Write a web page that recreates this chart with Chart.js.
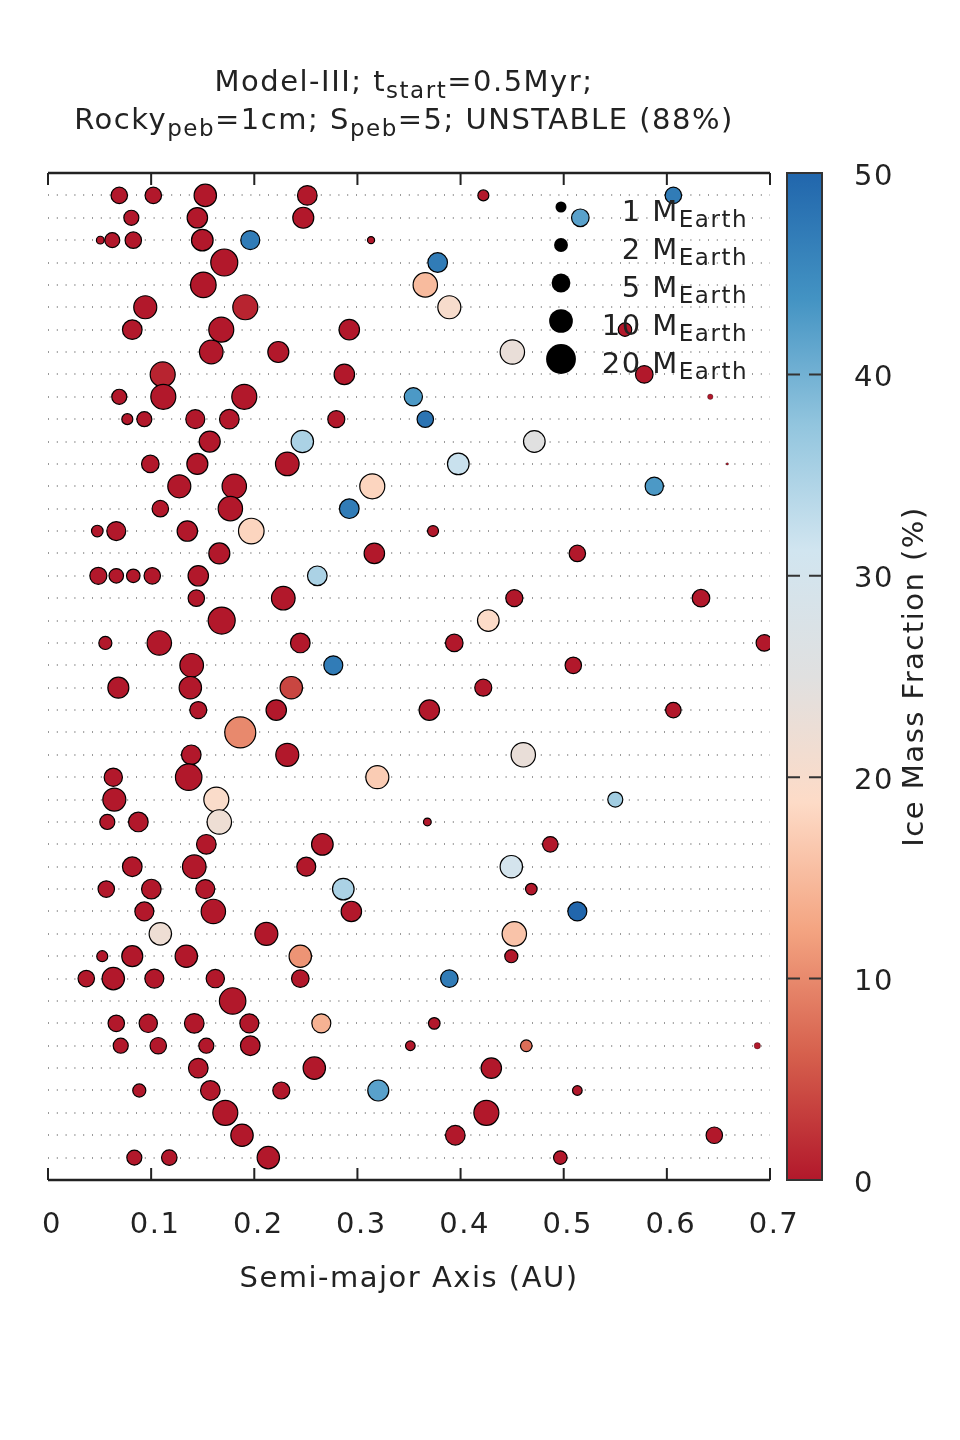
<!DOCTYPE html>
<html>
<head>
<meta charset="utf-8">
<script src="https://cdn.jsdelivr.net/npm/chart.js@4.4.1/dist/chart.umd.min.js"></script>
<style>
  body { margin: 0; background: #fff; }
</style>
</head>
<body>
<canvas id="planets" width="960" height="1440"></canvas>
<script>
// one entry per planet: simulation run (row), semi-major axis (AU), mass (M_Earth), ice mass fraction (%)
const runId = [
  44,44,44,44,44,44, 43,43,43,43, 42,42,42,42,42,42, 41,41, 40,40, 39,39,39, 38,38,38,38, 37,37,37, 36,36,36,
  35,35,35,35,35, 34,34,34,34,34,34, 33,33,33, 32,32,32,32,32, 31,31,31,31, 30,30,30, 29,29,29,29,29,
  28,28,28, 27,27,27,27,27,27, 26,26,26,26, 25,25, 24,24,24,24,24, 23,23,23, 22,22,22,22, 21,21,21,21,
  20, 19,19,19, 18,18,18, 17,17,17, 16,16,16,16, 15,15,15, 14,14,14,14, 13,13,13,13,13, 12,12,12,12,
  11,11,11, 10,10,10,10,10, 9,9,9,9,9,9, 8, 7,7,7,7,7,7, 6,6,6,6,6,6,6, 5,5,5, 4,4,4,4,4, 3,3, 2,2,2, 1,1,1,1
];
const semiMajorAxis = [
  0.0691,0.1021,0.1525,0.2514,0.4221,0.6063, 0.0808,0.1448,0.2475,0.5161,
  0.0507,0.0623,0.0827,0.1496,0.1961,0.3132, 0.1709,0.3778, 0.1506,0.3658,
  0.0943,0.1913,0.3891, 0.0817,0.1680,0.2921,0.5594, 0.1583,0.2233,0.4502, 0.1112,0.2873,0.5781,
  0.0691,0.1118,0.1903,0.3542,0.6421, 0.0769,0.0934,0.1428,0.1758,0.2795,0.3658,
  0.1568,0.2466,0.4715, 0.0992,0.1448,0.2320,0.3978,0.6586, 0.1273,0.1806,0.3144,0.5878,
  0.1089,0.1768,0.2921, 0.0478,0.0662,0.1351,0.1971,0.3733,
  0.1661,0.3164,0.5132, 0.0488,0.0662,0.0827,0.1011,0.1457,0.2611, 0.1438,0.2281,0.4521,0.6331,
  0.1684,0.4269, 0.0556,0.1079,0.2446,0.3939,0.6945, 0.1393,0.2766,0.5093,
  0.0682,0.1380,0.2359,0.4220, 0.1457,0.2213,0.3697,0.6063,
  0.1864, 0.1389,0.2320,0.4608, 0.0633,0.1364,0.3193, 0.0643,0.1632,0.5500,
  0.0575,0.0876,0.1661,0.3678, 0.1535,0.2660,0.4870, 0.0817,0.1418,0.2504,0.4492,
  0.0565,0.1002,0.1525,0.2863,0.4686, 0.0934,0.1603,0.2941,0.5132,
  0.1089,0.2117,0.4521, 0.0526,0.0817,0.1341,0.2446,0.4492, 0.0371,0.0633,0.1031,0.1622,0.2446,0.3891,
  0.1790, 0.0662,0.0972,0.1418,0.1952,0.2650,0.3745, 0.0705,0.1069,0.1535,0.1961,0.3513,0.4637,0.6877,
  0.1457,0.2582,0.4298, 0.0885,0.1574,0.2262,0.3202,0.5132, 0.1719,0.4250, 0.1881,0.3949,0.6460,
  0.0837,0.1176,0.2136,0.4967
];
const planetMass = [
  4.0,4.0,9.6,6.6,1.3,4.0, 3.1,7.4,8.0,4.8,
  0.5,3.1,4.0,8.7,6.0,0.4, 16.5,6.6, 14.1,12.3,
  10.4,13.2,10.4, 6.6,13.2,7.4,2.3, 11.2,8.0,12.3, 13.2,7.4,4.8,
  3.1,13.2,13.2,5.4,0.2, 1.3,3.1,6.0,6.6,4.4,4.0,
  8.0,9.6,8.7, 4.8,8.0,11.2,8.7,0.03, 10.4,12.3,13.2,5.4,
  4.0,12.3,6.6, 1.5,6.0,7.4,14.1,1.3,
  8.0,7.4,4.0, 4.4,2.8,2.3,4.0,7.4,6.6, 4.0,11.2,4.4,4.8,
  16.5,8.7, 2.1,12.3,6.6,4.8,4.0, 11.2,6.0,4.0,
  8.0,9.6,9.6,4.4, 4.4,7.4,7.4,3.4,
  24.6, 6.6,10.4,12.3, 5.4,15.6,10.4, 10.4,13.2,3.1,
  3.1,6.6,12.3,0.5, 6.6,8.7,3.4, 6.6,11.2,6.0,9.6,
  4.0,6.6,6.0,8.7,1.5, 6.0,12.3,7.4,6.0,
  9.6,10.4,12.3, 1.3,8.0,9.6,9.6,2.1, 4.0,9.6,6.0,5.4,4.8,4.8,
  15.6, 4.0,5.4,6.6,6.0,6.0,1.5, 3.1,4.0,3.1,6.6,0.9,1.5,0.3,
  6.6,9.6,7.4, 2.1,6.6,4.4,8.0,0.9, 13.2,13.2, 9.6,6.6,4.0,
  3.1,3.4,9.6,2.3
];
const iceFraction = [
  0,0,0,0,0,47, 0,0,0,42,
  0,0,0,0,47,0, 0,47, 0,15,
  0,1,20, 0,0,0,0, 0,0,23, 1,0,0,
  0,0,0,43,0, 0,0,0,0,0,48,
  0,35,25, 0,0,0,32,0, 0,0,18,43,
  0,0,47, 0,0,0,18,0,
  0,0,0, 0,0,0,0,0,35, 0,0,0,0,
  0,19, 0,0,0,0,0, 0,47,0,
  0,0,4,0, 0,0,0,0,
  10, 0,0,23, 0,0,17, 0,19.5,36,
  0,0,22,0, 0,0,0, 0,0,0,30,
  0,0,0,35,0, 0,0,0,50,
  22,0,16, 0,0,0,11,0, 0,0,0,0,0,47,
  0, 0,0,0,0,14,0, 0,0,0,0,0,7.5,0,
  0,0,0, 0,0,0,42,0, 0,0, 0,0,0,
  0,0,0,0
];

const xTicks = [0, 0.1, 0.2, 0.3, 0.4, 0.5, 0.6, 0.7];
const cbarTicks = [0, 10, 20, 30, 40, 50];
const legendMasses = [1, 2, 5, 10, 20];

const ink = '#222';
const fontName = '"DejaVu Sans", Verdana, sans-serif';
const fontSize = 29;
const paletteStops = ['#B2182B', '#D6604D', '#F4A582', '#FDDBC7', '#E0E0E0', '#D1E5F0', '#92C5DE', '#4393C3', '#2166AC'];

function hexRgb(h) {
  return [1, 3, 5].map(i => parseInt(h.slice(i, i + 2), 16));
}

function iceColor(v) {
  const t = Math.max(0, Math.min(1, v / 50)) * (paletteStops.length - 1);
  const i = Math.min(Math.floor(t), paletteStops.length - 2);
  const f = t - i;
  const a = hexRgb(paletteStops[i]), b = hexRgb(paletteStops[i + 1]);
  const c = a.map((va, k) => Math.round(va + (b[k] - va) * f));
  return 'rgb(' + c.join(',') + ')';
}

// marker radius grows with the cube root of the mass
const markerRadius = m => 5.5 * Math.cbrt(m);

// text with subscripts: parts = [[text, isSub], ...]
function richText(ctx, parts, x, y, align, size) {
  const big = size + 'px ' + fontName;
  const small = Math.round(size * 0.78) + 'px ' + fontName;
  let w = 0;
  parts.forEach(p => { ctx.font = p[1] ? small : big; w += ctx.measureText(p[0]).width; });
  let cx = align === 'center' ? x - w / 2 : (align === 'right' ? x - w : x);
  ctx.textAlign = 'left';
  ctx.textBaseline = 'alphabetic';
  parts.forEach(p => {
    ctx.font = p[1] ? small : big;
    ctx.fillText(p[0], cx, p[1] ? y + size * 0.24 : y);
    cx += ctx.measureText(p[0]).width;
  });
}

// the reference lettering is a little wider than DejaVu Sans
const spaced = chart => { chart.ctx.letterSpacing = '1.5px'; };

const decorations = {
  id: 'decorations',
  beforeLayout: spaced,
  beforeDraw: spaced,
  afterDraw(chart) {
    const {ctx, chartArea: ca, scales: {x, cbar}} = chart;
    ctx.save();

    // frame: bottom + top spines with inward ticks
    ctx.strokeStyle = ink;
    ctx.lineWidth = 2.5;
    ctx.beginPath();
    ctx.moveTo(ca.left, ca.top); ctx.lineTo(ca.right, ca.top);
    ctx.moveTo(ca.left, ca.bottom); ctx.lineTo(ca.right, ca.bottom);
    ctx.stroke();
    ctx.lineWidth = 2;
    xTicks.forEach(v => {
      const px = x.getPixelForValue(v);
      ctx.beginPath();
      ctx.moveTo(px, ca.bottom); ctx.lineTo(px, ca.bottom - 12);
      ctx.moveTo(px, ca.top); ctx.lineTo(px, ca.top + 12);
      ctx.stroke();
    });

    // colour bar
    const bx = ca.right + 17, bw = 35;
    const yLo = cbar.getPixelForValue(cbar.min), yHi = cbar.getPixelForValue(cbar.max);
    const grad = ctx.createLinearGradient(0, yLo, 0, yHi);
    paletteStops.forEach((c, i) => grad.addColorStop(i / (paletteStops.length - 1), c));
    ctx.fillStyle = grad;
    ctx.fillRect(bx, yHi, bw, yLo - yHi);
    ctx.strokeStyle = '#333';
    ctx.lineWidth = 2;
    ctx.strokeRect(bx, yHi, bw, yLo - yHi);
    cbarTicks.forEach(v => {
      if (v <= cbar.min || v >= cbar.max) return;
      const py = cbar.getPixelForValue(v);
      ctx.beginPath();
      ctx.moveTo(bx, py); ctx.lineTo(bx + 13, py);
      ctx.moveTo(bx + bw - 13, py); ctx.lineTo(bx + bw, py);
      ctx.stroke();
    });

    ctx.fillStyle = ink;
    // colour bar title
    ctx.save();
    ctx.translate(915, (ca.top + ca.bottom) / 2);
    ctx.rotate(-Math.PI / 2);
    ctx.font = fontSize + 'px ' + fontName;
    ctx.textAlign = 'center';
    ctx.textBaseline = 'middle';
    ctx.fillText('Ice Mass Fraction (%)', 0, 0);
    ctx.restore();

    // size legend
    legendMasses.forEach((m, i) => {
      const ly = 207 + i * 38;
      ctx.beginPath();
      ctx.arc(561, ly, markerRadius(m), 0, Math.PI * 2);
      ctx.fillStyle = '#000';
      ctx.fill();
      ctx.fillStyle = ink;
      richText(ctx, [[m + ' M', false], ['Earth', true]], 748, ly + 13.5, 'right', fontSize);
    });

    // title
    richText(ctx, [['Model-III; t', false], ['start', true], ['=0.5Myr;', false]], 404, 91, 'center', fontSize);
    richText(ctx, [['Rocky', false], ['peb', true], ['=1cm; S', false], ['peb', true], ['=5; UNSTABLE (88%)', false]], 404, 129, 'center', fontSize);
    ctx.restore();
  }
};

new Chart(document.getElementById('planets'), {
  type: 'scatter',
  data: {
    datasets: [{
      data: semiMajorAxis.map((a, i) => ({x: a, y: runId[i]})),
      pointRadius: c => Math.max(1, markerRadius(planetMass[c.dataIndex]) - 0.5),
      pointHoverRadius: c => Math.max(1, markerRadius(planetMass[c.dataIndex]) - 0.5),
      pointBackgroundColor: c => iceColor(iceFraction[c.dataIndex]),
      pointBorderColor: '#000',
      pointBorderWidth: c => markerRadius(planetMass[c.dataIndex]) < 4 ? 0.3 : 1.2
    }]
  },
  options: {
    responsive: false,
    animation: false,
    devicePixelRatio: 1,
    layout: {padding: {left: 48, top: 173, right: 0, bottom: 0}},
    plugins: {legend: {display: false}, tooltip: {enabled: false}},
    scales: {
      x: {
        type: 'linear',
        min: 0,
        max: 0.7,
        afterBuildTicks: s => { s.ticks = xTicks.map(v => ({value: v})); },
        afterFit: s => { s.height = 260; },
        grid: {display: false, drawTicks: false},
        border: {display: false},
        ticks: {
          padding: 28,
          labelOffset: 4,
          color: ink,
          font: {family: fontName, size: fontSize},
          callback: v => v === 0 ? '0' : v.toFixed(1)
        },
        title: {
          display: true,
          text: 'Semi-major Axis (AU)',
          color: ink,
          font: {family: fontName, size: fontSize},
          padding: {top: 0, bottom: 143}
        }
      },
      y: {
        type: 'linear',
        min: 0,
        max: 45,
        afterBuildTicks: s => { s.ticks = runId.filter((r, i) => runId.indexOf(r) === i).map(v => ({value: v})); },
        afterFit: s => { s.width = 0; },
        ticks: {display: false},
        grid: {color: '#9a9a9a', lineWidth: 2, drawTicks: false},
        border: {display: false, dash: [1, 7.8]}
      },
      cbar: {
        type: 'linear',
        position: 'right',
        min: 0,
        max: 50,
        afterBuildTicks: s => { s.ticks = cbarTicks.map(v => ({value: v})); },
        afterFit: s => { s.width = 190; },
        grid: {display: false, drawTicks: false},
        border: {display: false},
        ticks: {
          padding: 84,
          labelOffset: 4,
          color: ink,
          font: {family: fontName, size: fontSize}
        }
      }
    }
  },
  plugins: [decorations]
});
</script>
</body>
</html>
